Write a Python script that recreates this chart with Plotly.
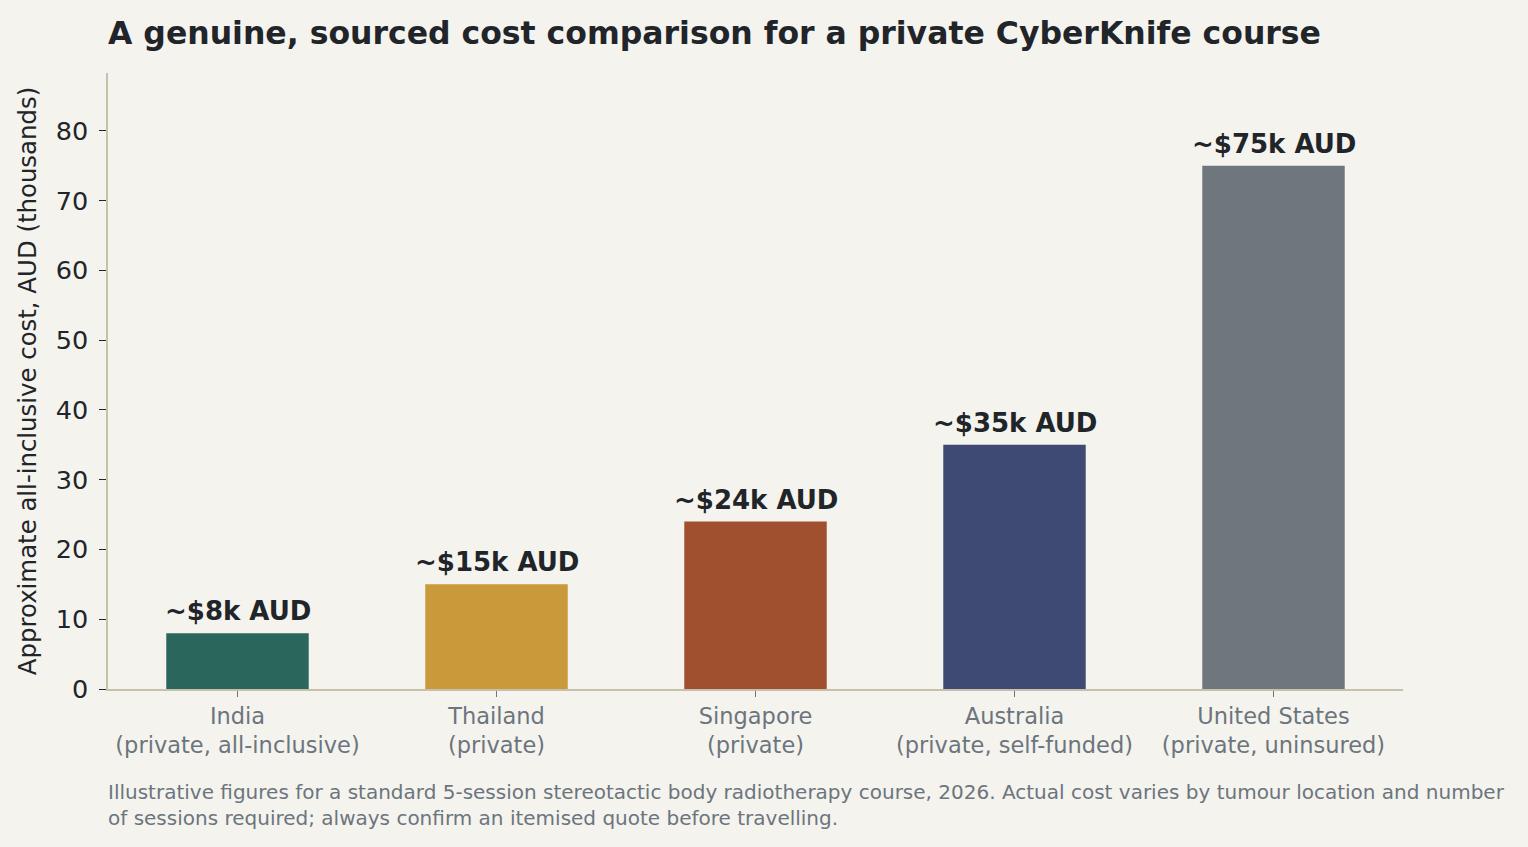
import plotly.graph_objects as go

countries = ["India", "Thailand", "Singapore", "Australia", "United States"]
settings = ["private, all-inclusive", "private", "private", "private, self-funded", "private, uninsured"]
costs_k = [8, 15, 24, 35, 75]
cost_labels = ["~$8k AUD", "~$15k AUD", "~$24k AUD", "~$35k AUD", "~$75k AUD"]
bar_colors = ["#2a665b", "#c9993a", "#a0502e", "#3e4a73", "#6f767e"]

tick_text = [f"{c}<br>({s})" for c, s in zip(countries, settings)]
positions = list(range(len(countries)))

FONT = "DejaVu Sans"
BG = "#f4f3ee"
SPINE = "#c8c0aa"

fig = go.Figure()
fig.add_trace(go.Bar(
    x=positions,
    y=costs_k,
    width=0.55,
    marker=dict(color=bar_colors, line=dict(width=0)),
    hoverinfo="skip",
    showlegend=False,
))

for xi, val, lab in zip(positions, costs_k, cost_labels):
    fig.add_annotation(
        x=xi, y=val, text=f"<b>{lab}</b>", showarrow=False,
        yanchor="bottom", yshift=5,
        font=dict(family=FONT, size=26, color="#212529"),
    )

fig.add_annotation(
    xref="paper", yref="paper", x=0, y=-0.144, xanchor="left", yanchor="top",
    xshift=-2, align="left", showarrow=False,
    text=("Illustrative figures for a standard 5-session stereotactic body radiotherapy course, 2026. "
          "Actual cost varies by tumour location and number<br>"
          "of sessions required; always confirm an itemised quote before travelling."),
    font=dict(family=FONT, size=20, color="#6c757d"),
)

fig.update_layout(
    width=1528, height=847,
    paper_bgcolor=BG, plot_bgcolor=BG,
    margin=dict(l=108, r=125, t=73, b=158),
    font=dict(family=FONT, color="#212529"),
    title=dict(
        text="<b>A genuine, sourced cost comparison for a private CyberKnife course</b>",
        x=108 / 1528, xanchor="left", xref="container",
        y=1 - 33 / 847, yanchor="middle", yref="container",
        font=dict(family=FONT, size=31.5, color="#212529"),
    ),
    xaxis=dict(
        range=[-0.5, 4.5],
        tickmode="array", tickvals=positions, ticktext=tick_text,
        tickfont=dict(family=FONT, size=22.5, color="#6c757d"),
        ticks="outside", ticklen=6, tickcolor="#6c757d",
        showline=True, linecolor=SPINE, linewidth=1.5,
        showgrid=False, zeroline=False,
    ),
    yaxis=dict(
        range=[0, 88.3],
        tickvals=[0, 10, 20, 30, 40, 50, 60, 70, 80],
        tickfont=dict(family=FONT, size=25.5, color="#212529"),
        ticks="outside", ticklen=7, tickcolor="#212529",
        ticklabelstandoff=6,
        showline=True, linecolor=SPINE, linewidth=1.5,
        showgrid=False, zeroline=False,
        title=dict(text="Approximate all-inclusive cost, AUD (thousands)",
                   font=dict(family=FONT, size=24.4, color="#212529"), standoff=12),
    ),
)

fig.write_html("out.html", config={"displayModeBar": False},
               post_script="document.body.style.margin='0';")
